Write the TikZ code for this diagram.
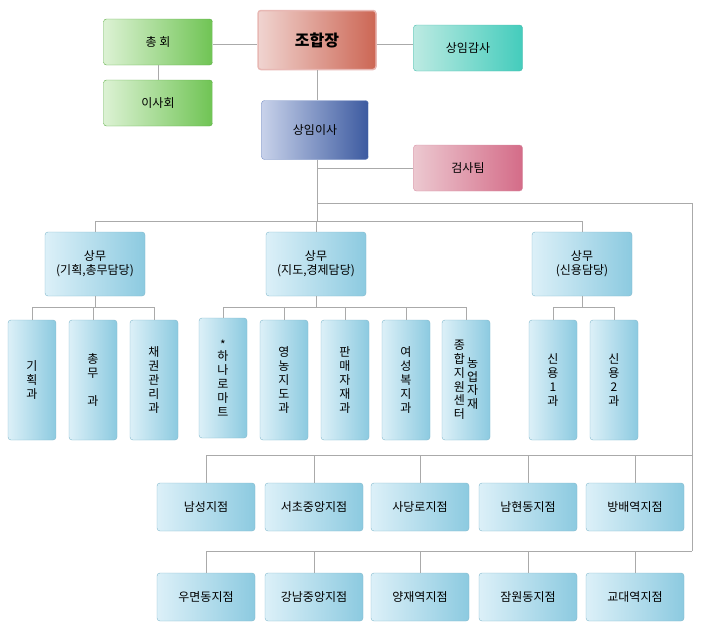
\documentclass[tikz,border=0pt]{standalone}
\usepackage{fontspec}
\setmainfont{Noto Sans CJK KR}
\usetikzlibrary{positioning}
\definecolor{lnc}{HTML}{AAAAAA}
\definecolor{gL}{HTML}{DCF2D4}\definecolor{gR}{HTML}{70C454}\definecolor{gD}{HTML}{5CAE44}
\definecolor{rL}{HTML}{F0D4D0}\definecolor{rR}{HTML}{CC6654}\definecolor{rD}{HTML}{E8B8B4}
\definecolor{tL}{HTML}{BCEAE2}\definecolor{tR}{HTML}{44CCBC}\definecolor{tD}{HTML}{44BCAC}
\definecolor{bL}{HTML}{C8D2EA}\definecolor{bR}{HTML}{3C5AA0}\definecolor{bD}{HTML}{7890C4}
\definecolor{pL}{HTML}{ECC8D0}\definecolor{pR}{HTML}{D46C88}\definecolor{pD}{HTML}{D890A4}
\definecolor{sL}{HTML}{DCF0F8}\definecolor{sR}{HTML}{8CCAE0}\definecolor{sD}{HTML}{80B8CC}
\tikzset{
  box/.style={rounded corners=3pt, shading=axis, minimum width=109pt, minimum height=46pt, font=\fontsize{12}{14}\selectfont},
  grn/.style={box, left color=gL, right color=gR, draw=gD},
  hd/.style={box, left color=rL, right color=rR, draw=rD, line width=1.5pt, minimum width=118pt, minimum height=59pt, font=\fontsize{16}{18}\bfseries\selectfont},
  tl/.style={box, left color=tL, right color=tR, draw=tD},
  bl/.style={box, left color=bL, right color=bR, draw=bD, minimum width=107pt, minimum height=59pt},
  pk/.style={box, left color=pL, right color=pR, draw=pD},
  sb/.style={box, left color=sL, right color=sR, draw=sD, minimum width=100pt, minimum height=64pt},
  vb/.style={sb, minimum width=48pt, minimum height=120pt, align=center},
  br/.style={sb, minimum width=98pt, minimum height=48pt},
  ln/.style={draw=lnc, line width=0.8pt}
}
\begin{document}
\begin{tikzpicture}[x=1pt,y=-1pt]
\useasboundingbox (0,0) rectangle (710,643);
% top
\node[hd] (ceo) at (317,40) {조합장};
\node[grn] (gm) at (158,42) {총 회};
\node[grn] (brd) at (158,103) {이사회};
\node[tl] (aud) at (468,48) {상임감사};
\node[bl] (dir) at (315,130) {상임이사};
\node[pk] (insp) at (468,168) {검사팀};
\draw[ln] (gm.east |- 0,44) -- (ceo.west |- 0,44);
\draw[ln] (ceo.east |- 0,44) -- (aud.west |- 0,44);
\draw[ln] (gm) -- (brd);
\draw[ln] (ceo.south -| 317,0) -- (dir.north -| 317,0);
\coordinate (c1) at (317,168);
\coordinate (c2) at (317,203);
\draw[ln] (dir.south -| c1) -- (c2) -- (692,203) -- (692,551);
\draw[ln] (c1) -- (insp.west |- c1);
% managing directors
\node[sb, align=center] (m1) at (95,264) {상무\\(기획,총무담당)};
\node[sb, align=center] (m2) at (316,264) {상무\\(지도,경제담당)};
\node[sb, align=center] (m3) at (582,264) {상무\\(신용담당)};
\draw[ln] (c2) -- (317,222);
\draw[ln] (m1.north) -- ++(0,-10) -| (m3.north);
\draw[ln] (m2.north) -- ++(0,-10);
% departments
\node[vb] (d1) at (32,380) {기\\획\\과};
\node[vb] (d2) at (93,380) {총\\무\\\\과};
\node[vb] (d3) at (154,380) {채\\권\\관\\리\\과};
\node[vb] (d4) at (223,378) {*\\[-3pt]하\\나\\로\\마\\트};
\node[vb] (d5) at (284,380) {영\\농\\지\\도\\과};
\node[vb] (d6) at (345,380) {판\\매\\자\\재\\과};
\node[vb] (d7) at (406,380) {여\\성\\복\\지\\과};
\node[vb] (d8) at (466,380) {\shortstack{종\\합\\지\\원\\센\\터}\,\raisebox{10pt}{\shortstack{농\\업\\자\\재}}};
\node[vb] (d9) at (553,380) {신\\용\\1\\과};
\node[vb] (d10) at (614,380) {신\\용\\2\\과};
\foreach \a/\b/\c in {m1/d1/d3, m2/d4/d8, m3/d9/d10}{
  \draw[ln] (\a.south) -- ++(0,11) coordinate (j);
  \draw[ln] (\b.north) -- (\b.north |- j) -- (\c.north |- j) -- (\c.north);
}
\foreach \d in {d2,d5,d6,d7}{
  \draw[ln] (\d.north) -- ++(0,-13);
}
% branches
\foreach \n/\x/\t in {b1/206/남성지점, b2/314/서초중앙지점, b3/420/사당로지점, b4/528/남현동지점, b5/635/방배역지점}{
  \node[br] (\n) at (\x,507) {\t};
  \draw[ln] (\n.north) -- (\x,455);
}
\draw[ln] (206,455) -- (692,455);
\foreach \n/\x/\t in {e1/206/우면동지점, e2/314/강남중앙지점, e3/420/양재역지점, e4/528/잠원동지점, e5/635/교대역지점}{
  \node[br] (\n) at (\x,597) {\t};
  \draw[ln] (\n.north) -- (\x,551);
}
\draw[ln] (206,551) -- (692,551);
\end{tikzpicture}
\end{document}
